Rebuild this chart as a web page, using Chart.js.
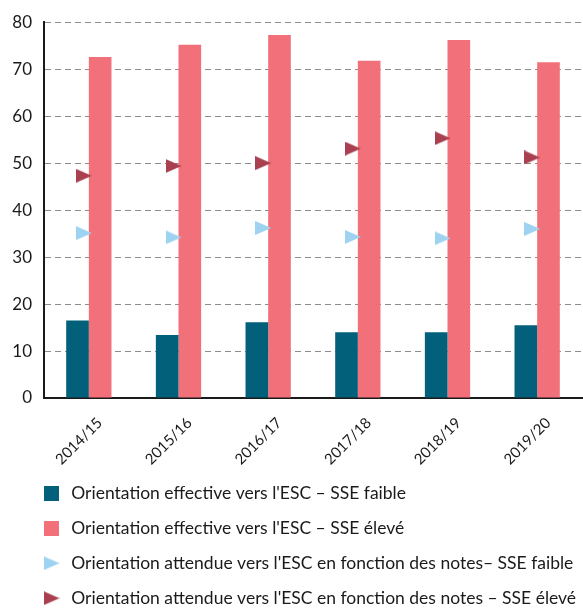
<!DOCTYPE html>
<html><head><meta charset="utf-8">
<script src="https://cdn.jsdelivr.net/npm/chart.js@4"></script>
<style>
html,body{margin:0;padding:0;overflow:hidden;background:#fff;width:583px;height:610px}
#wrap{width:591px;height:617px;position:relative}
</style>
</head><body><div id="wrap"><canvas id="c" width="591" height="617"></canvas></div>
<script>
const categories = ['2014/15','2015/16','2016/17','2017/18','2018/19','2019/20'];
const effectiveLow = [16.5, 13.4, 16.1, 14.0, 14.0, 15.5];
const effectiveHigh = [72.6, 75.2, 77.3, 71.8, 76.2, 71.5];
const expectedLow = [35.1, 34.2, 36.2, 34.3, 34.0, 36.0];
const expectedHigh = [47.3, 49.4, 50.0, 53.1, 55.3, 51.2];
const yTicks = [0, 10, 20, 30, 40, 50, 60, 70, 80];
const seriesLabels = [
  "Orientation effective vers l'ESC \u2013 SSE faible",
  "Orientation effective vers l'ESC \u2013 SSE élevé",
  "Orientation attendue vers l'ESC en fonction des notes\u2013 SSE faible",
  "Orientation attendue vers l'ESC en fonction des notes \u2013 SSE élevé"
];

const C_TEAL = '#03607a', C_PINK = '#f2707a', C_LBLUE = '#9dd3f1', C_DRED = '#a8404f';
const FONT = 'Lato, "Open Sans", sans-serif';

function triangleImg(color, canvasW, triW, triH) {
  const c = document.createElement('canvas');
  c.width = canvasW; c.height = triH;
  const g = c.getContext('2d');
  g.fillStyle = color;
  g.beginPath();
  g.moveTo(0, 0); g.lineTo(triW, triH / 2); g.lineTo(0, triH); g.closePath();
  g.fill();
  return c;
}
function squareImg(color, s) {
  const c = document.createElement('canvas');
  c.width = s; c.height = s;
  const g = c.getContext('2d');
  g.fillStyle = color; g.fillRect(0, 0, s, s);
  return c;
}
const markLow = triangleImg(C_LBLUE, 26, 16, 14);
const markHigh = triangleImg(C_DRED, 26, 16, 14);
const legendMarks = [squareImg(C_TEAL, 15), squareImg(C_PINK, 15), triangleImg(C_LBLUE, 16, 16, 14), triangleImg(C_DRED, 16, 16, 14)];

// shift the legend block to the right (layout only)
const legendIndent = {
  id: 'legendIndent',
  afterLayout(chart) { if (chart.legend) chart.legend.left += 23; }
};

new Chart(document.getElementById('c'), {
  type: 'bar',
  data: {
    labels: categories,
    datasets: [
      { label: seriesLabels[0], data: effectiveLow, backgroundColor: C_TEAL, order: 1,
        categoryPercentage: 0.505, barPercentage: 1 },
      { label: seriesLabels[1], data: effectiveHigh, backgroundColor: C_PINK, order: 1,
        categoryPercentage: 0.505, barPercentage: 1 },
      { type: 'line', label: seriesLabels[2], data: expectedLow, showLine: false, order: 0,
        pointStyle: markLow, pointRadius: 8, backgroundColor: C_LBLUE, borderColor: C_LBLUE },
      { type: 'line', label: seriesLabels[3], data: expectedHigh, showLine: false, order: 0,
        pointStyle: markHigh, pointRadius: 8, backgroundColor: C_DRED, borderColor: C_DRED }
    ]
  },
  plugins: [legendIndent],
  options: {
    responsive: false,
    animation: false,
    layout: { padding: { top: 21, left: 0, right: 0, bottom: 0 } },
    plugins: {
      tooltip: { enabled: false },
      legend: {
        position: 'bottom',
        align: 'start',
        labels: {
          usePointStyle: true,
          pointStyleWidth: 22,
          boxHeight: 15,
          padding: 17.5,
          color: '#1a1a1a',
          font: { family: FONT, size: 17.5 },
          generateLabels(chart) {
            const items = Chart.defaults.plugins.legend.labels.generateLabels(chart);
            items.sort((a, b) => a.datasetIndex - b.datasetIndex);
            items.forEach(it => { it.pointStyle = legendMarks[it.datasetIndex]; it.lineWidth = 0; });
            return items;
          }
        }
      }
    },
    scales: {
      x: {
        offset: true,
        grid: { display: false, drawTicks: false },
        border: { display: true, color: '#1a1a1a', width: 2 },
        ticks: { minRotation: 45, maxRotation: 45, color: '#1a1a1a', padding: 16, labelOffset: 11,
                 font: { family: FONT, size: 15 } },
        afterFit(scale) { scale.height = 69; }
      },
      y: {
        min: 0, max: 80,
        afterBuildTicks(scale) { scale.ticks = yTicks.map(v => ({ value: v })); },
        grid: { color: '#8c8c8c', lineWidth: 1, drawTicks: false },
        border: { display: true, color: '#1a1a1a', width: 2, dash: [6, 4] },
        ticks: { color: '#1a1a1a', padding: 12, font: { family: FONT, size: 17 } },
        afterFit(scale) { scale.width = 44; }
      }
    }
  }
});
</script>
</body></html>
